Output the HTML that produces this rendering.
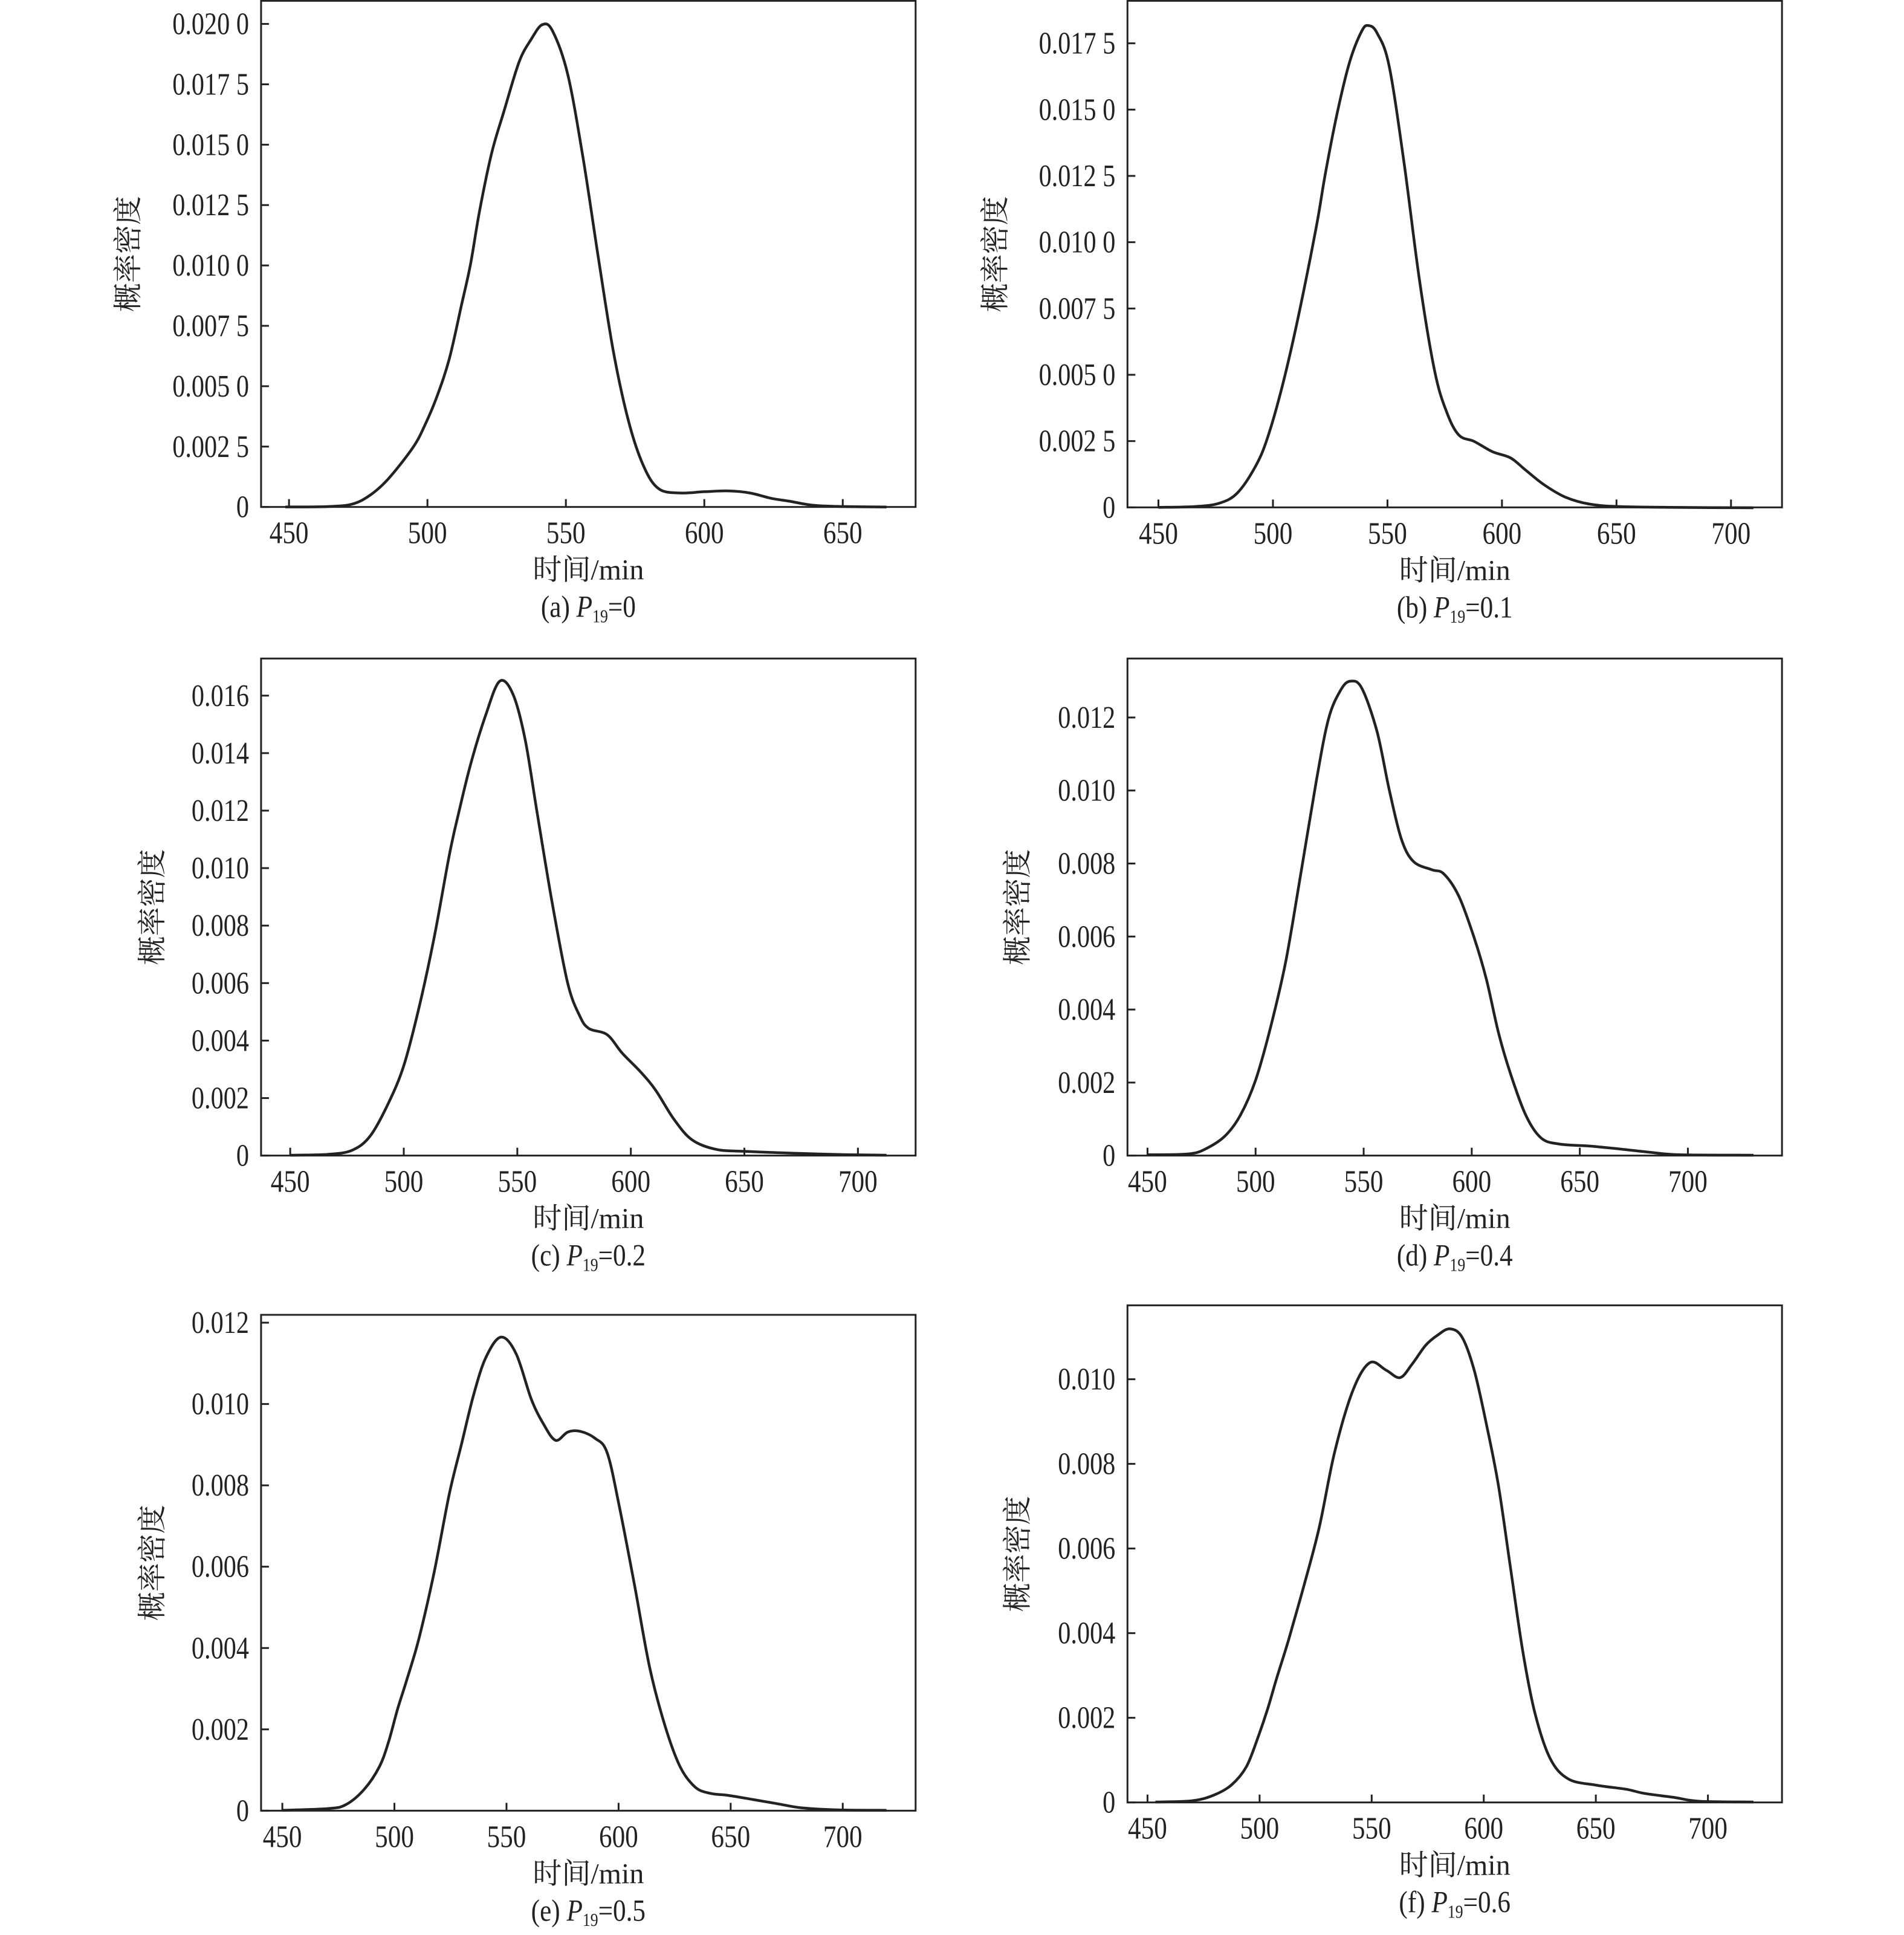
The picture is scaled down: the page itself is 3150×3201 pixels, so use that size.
<!DOCTYPE html>
<html><head><meta charset="utf-8">
<style>
html,body{margin:0;padding:0;background:#fff;}
svg{display:block;}
text{font-family:"Liberation Serif","Noto Serif CJK SC",serif;fill:#222;}
</style></head>
<body>
<svg id="s" width="3150" height="3201" xmlns="http://www.w3.org/2000/svg"></svg>
<script>
const P=[
 {id:'a',val:'0',ox:0,oy:0,fy:0.6824,box:[430,2,1508,1229],x0:476,dx:228,nx:5,y0:1229,dy:(1229-58)/8,ny:9,yl:['0','0.002 5','0.005 0','0.007 5','0.010 0','0.012 5','0.015 0','0.017 5','0.020 0'],ylx:210,
  pts:[[470,1229],[540,1228],[580,1222],[610,1200],[640,1160],[680,1085],[700,1030],[720,960],[740,870],[760,740],[775,640],[790,510],[810,370],[830,270],[855,150],[875,95],[893,60],[910,75],[935,180],[960,380],[985,620],[1010,850],[1035,1020],[1060,1130],[1085,1185],[1120,1195],[1160,1192],[1200,1190],[1235,1195],[1270,1208],[1300,1215],[1340,1225],[1390,1228],[1460,1229]]},
 {id:'b',val:'0.1',ox:1575,oy:0,fy:0.6824,box:[289,2,1367,1230],x0:340,dx:188.6,nx:6,y0:1230,dy:(1230-105)/7,ny:8,yl:['0','0.002 5','0.005 0','0.007 5','0.010 0','0.012 5','0.015 0','0.017 5'],ylx:70,
  pts:[[340,1230],[400,1228],[440,1220],[470,1195],[500,1130],[520,1060],[545,930],[570,770],[600,550],[615,420],[635,270],[655,150],[675,75],[686,62],[700,80],[720,160],[745,400],[770,680],[795,900],[815,1000],[835,1055],[860,1070],[890,1095],[920,1110],[945,1140],[975,1175],[1010,1205],[1050,1222],[1100,1228],[1200,1230],[1320,1231]]},
 {id:'c',val:'0.2',ox:0,oy:1060,fy:0.6824,box:[430,43,1508,1248],x0:478,dx:187,nx:6,y0:1248,dy:(1248-133)/8,ny:9,yl:['0','0.002','0.004','0.006','0.008','0.010','0.012','0.014','0.016'],ylx:250,
  pts:[[478,1247],[540,1245],[580,1235],[610,1200],[640,1120],[665,1030],[690,890],[715,720],[740,520],[755,420],[775,300],[800,180],[823,98],[845,130],[865,240],[885,420],[910,640],[935,830],[955,910],[970,940],[1000,955],[1025,1000],[1055,1045],[1080,1090],[1110,1160],[1140,1210],[1180,1233],[1230,1238],[1300,1242],[1400,1246],[1460,1247]]},
 {id:'d',val:'0.4',ox:1575,oy:1060,fy:0.6824,box:[289,43,1367,1248],x0:322,dx:178,nx:6,y0:1248,dy:(1248-186)/6,ny:7,yl:['0','0.002','0.004','0.006','0.008','0.010','0.012'],ylx:107,
  pts:[[322,1246],[390,1244],[420,1230],[450,1200],[475,1150],[500,1065],[525,935],[550,775],[575,560],[600,340],[620,190],[640,120],[656,98],[675,115],[700,220],[720,360],[740,480],[760,535],[790,555],[810,565],[835,620],[860,720],[880,820],[900,950],[920,1050],[945,1150],[970,1205],[1000,1220],[1050,1225],[1100,1232],[1150,1240],[1200,1246],[1320,1247]]},
 {id:'e',val:'0.5',ox:0,oy:2130,fy:0.683,box:[430,66,1508,1267],x0:465,dx:184.6,nx:6,y0:1267,dy:(1267-85)/6,ny:7,yl:['0','0.002','0.004','0.006','0.008','0.010','0.012'],ylx:250,
  pts:[[465,1266],[540,1262],[570,1252],[600,1215],[625,1160],[640,1100],[655,1020],[670,950],[690,850],[715,690],[740,500],[760,380],[780,260],[800,170],[825,120],[850,160],[875,270],[895,330],[915,370],[935,350],[955,348],[980,365],[1000,400],[1020,530],[1045,720],[1070,920],[1095,1060],[1120,1160],[1145,1210],[1170,1225],[1200,1230],[1240,1240],[1280,1250],[1320,1260],[1380,1265],[1460,1266]]},
 {id:'f',val:'0.6',ox:1575,oy:2130,fy:0.683,box:[289,43,1367,1247],x0:322,dx:184.6,nx:6,y0:1247,dy:(1247-222)/5,ny:6,yl:['0','0.002','0.004','0.006','0.008','0.010'],ylx:107,
  pts:[[335,1246],[395,1243],[430,1230],[460,1205],[485,1160],[505,1085],[520,1020],[535,945],[555,850],[580,720],[605,580],[630,400],[660,250],[688,182],[715,200],[738,218],[758,185],[780,140],[800,115],[820,100],[840,120],[860,200],[880,330],[900,480],[920,680],[940,880],[960,1030],[985,1140],[1015,1190],[1060,1205],[1110,1215],[1140,1225],[1190,1235],[1230,1244],[1320,1246]]}
];
const fx=1.0045;
let h='';
function X(p,x){return p.ox+x*fx;}
function Y(p,y){return p.oy+y*p.fy;}
function T(x,y,s,anchor,fs,sx){return `<text transform="translate(${x},${y}) scale(${sx},1.08)" font-size="${fs}" text-anchor="${anchor}">${s}</text>`;}
for(const p of P){
 const [l,t,r,b]=p.box;
 const L=X(p,l),Tp=Y(p,t),R=X(p,r),B=Y(p,b);
 h+=`<rect x="${L}" y="${Tp}" width="${R-L}" height="${B-Tp}" fill="none" stroke="#222" stroke-width="3"/>`;
 for(let i=0;i<p.nx;i++){const x=X(p,p.x0+i*p.dx);
  h+=`<line x1="${x}" y1="${B}" x2="${x}" y2="${B-13}" stroke="#222" stroke-width="3"/>`;
  h+=T(x,B+60,450+50*i,'middle',48,0.9);}
 for(let i=0;i<p.ny;i++){const y=Y(p,p.y0-i*p.dy);
  h+=`<line x1="${L}" y1="${y}" x2="${L+13}" y2="${y}" stroke="#222" stroke-width="3"/>`;
  h+=T(L-20,y+17,p.yl[i],'end',48,0.88);}
 const cx=(L+R)/2, cy=(Tp+B)/2;
 h+=`<text transform="translate(${X(p,p.ylx)+17},${cy}) rotate(-90)" font-size="48" text-anchor="middle">概率密度</text>`;
 h+=`<text x="${cx}" y="${B+120}" font-size="48" text-anchor="middle">时间/min</text>`;
 h+=`<text transform="translate(${cx},${B+182}) scale(0.92,1.08)" font-size="47" text-anchor="middle">(${p.id}) <tspan font-style="italic">P</tspan><tspan font-size="28" dy="8">19</tspan><tspan dy="-8">=${p.val}</tspan></text>`;
 const q=p.pts.map(a=>[X(p,a[0]),Y(p,a[1])]);
 let d=`M${q[0][0]},${q[0][1]}`;
 for(let i=0;i<q.length-1;i++){
  const p0=q[Math.max(0,i-1)],p1=q[i],p2=q[i+1],p3=q[Math.min(q.length-1,i+2)];
  const c1=[p1[0]+(p2[0]-p0[0])/6,p1[1]+(p2[1]-p0[1])/6];
  const c2=[p2[0]-(p3[0]-p1[0])/6,p2[1]-(p3[1]-p1[1])/6];
  d+=`C${c1[0].toFixed(1)},${c1[1].toFixed(1)} ${c2[0].toFixed(1)},${c2[1].toFixed(1)} ${p2[0].toFixed(1)},${p2[1].toFixed(1)}`;
 }
 h+=`<path d="${d}" fill="none" stroke="#222" stroke-width="4.5" stroke-linejoin="round"/>`;
}
document.getElementById('s').innerHTML=h;
</script>
</body></html>
